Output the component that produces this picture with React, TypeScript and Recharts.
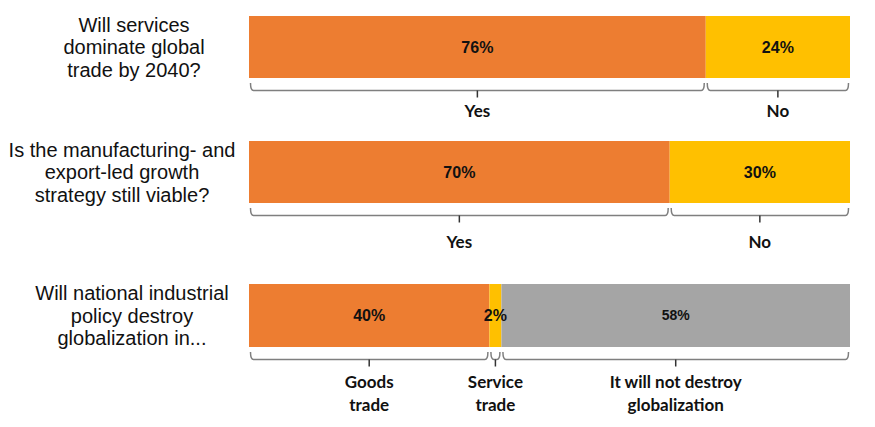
import { BarChart, Bar, XAxis, YAxis, LabelList } from "recharts";

const questions = [
  ["Will services", "dominate global", "trade by 2040?"],
  ["Is the manufacturing- and", "export-led growth", "strategy still viable?"],
  ["Will national industrial", "policy destroy", "globalization in..."],
];

const firstShare = [76, 70, 40];
const secondShare = [24, 30, 2];
const thirdShare = [0, 0, 58];

const segmentNames = [
  [["Yes"], ["No"]],
  [["Yes"], ["No"]],
  [["Goods", "trade"], ["Service", "trade"], ["It will not destroy", "globalization"]],
];

const colors = ["#ED7D31", "#FFC000", "#A5A5A5"];
const seriesKeys = ["first", "second", "third"];

// chart boxes: top, height, top margin, bar size, question label centre x, label offset below bar
const boxes = [
  { top: 0, height: 130, mt: 16, bar: 62, cx: 134, lab: 33 },
  { top: 130, height: 140, mt: 11, bar: 62, cx: 122, lab: 39 },
  { top: 270, height: 157, mt: 14, bar: 63, cx: 132, lab: 35 },
];

function QuestionTick(props: any) {
  const { y, payload, cx } = props;
  const lines: string[] = payload.value.split("|");
  const lh = 22.5;
  const start = y - ((lines.length - 1) * lh) / 2;
  return (
    <text textAnchor="middle" fontFamily="'Liberation Sans', Arial, sans-serif" fontSize={20} fill="#111">
      {lines.map((l, i) => (
        <tspan key={i} x={cx} y={start + i * lh} dy="0.35em">
          {l}
        </tspan>
      ))}
    </text>
  );
}

function Segment(props: any) {
  const { x, y, width, height, value, row, seg, lab } = props;
  if (!value) return null;
  const bottom = y + height;
  const x0 = x + 1.5;
  const x1 = x + width - 1.5;
  const mid = x + width / 2;
  const topY = bottom + 5;
  const lineY = bottom + 12.5;
  const names: string[] = segmentNames[row][seg];
  return (
    <g>
      <text
        x={mid}
        y={y + height / 2}
        dy="0.35em"
        textAnchor="middle"
        fontFamily="'Liberation Sans', Arial, sans-serif"
        fontWeight="bold"
        fontSize={seg === 2 ? 14 : 16}
        fill="#111"
      >
        {value}%
      </text>
      <path
        d={`M${x0},${topY} Q${x0},${lineY} ${x0 + 3},${lineY} L${x1 - 3},${lineY} Q${x1},${lineY} ${x1},${topY}`}
        fill="none"
        stroke="#7f7f7f"
        strokeWidth={1.5}
      />
      <line x1={mid} y1={lineY} x2={mid} y2={lineY + 7} stroke="#333" strokeWidth={1.5} />
      <text
        textAnchor="middle"
        fontFamily="Lato, 'Open Sans', sans-serif"
        fontWeight="bold"
        fontSize={17}
        fill="#111"
      >
        {names.map((n, i) => (
          <tspan key={i} x={mid} y={bottom + lab + i * 23} dy="0.35em">
            {n}
          </tspan>
        ))}
      </text>
    </g>
  );
}

export default function App() {
  return (
    <div style={{ position: "absolute", left: 0, top: 0, width: 875, height: 427, background: "#fff" }}>
      {boxes.map((b, row) => {
        const data = [
          {
            question: questions[row].join("|"),
            first: firstShare[row],
            second: secondShare[row],
            third: thirdShare[row],
          },
        ];
        return (
          <div key={row} style={{ position: "absolute", left: 0, top: b.top }}>
            <BarChart
              layout="vertical"
              width={875}
              height={b.height}
              data={data}
              margin={{ top: b.mt, bottom: b.height - b.mt - b.bar, left: 0, right: 25 }}
              barCategoryGap="0%"
            >
              <XAxis type="number" domain={[0, 100]} hide />
              <YAxis
                type="category"
                dataKey="question"
                width={249}
                axisLine={false}
                tickLine={false}
                tick={<QuestionTick cx={b.cx} />}
              />
              {seriesKeys.map((k, seg) => (
                <Bar key={k} dataKey={k} stackId="a" fill={colors[seg]} isAnimationActive={false}>
                  <LabelList dataKey={k} content={(p: any) => <Segment {...p} row={row} seg={seg} lab={b.lab} />} />
                </Bar>
              ))}
            </BarChart>
          </div>
        );
      })}
    </div>
  );
}
